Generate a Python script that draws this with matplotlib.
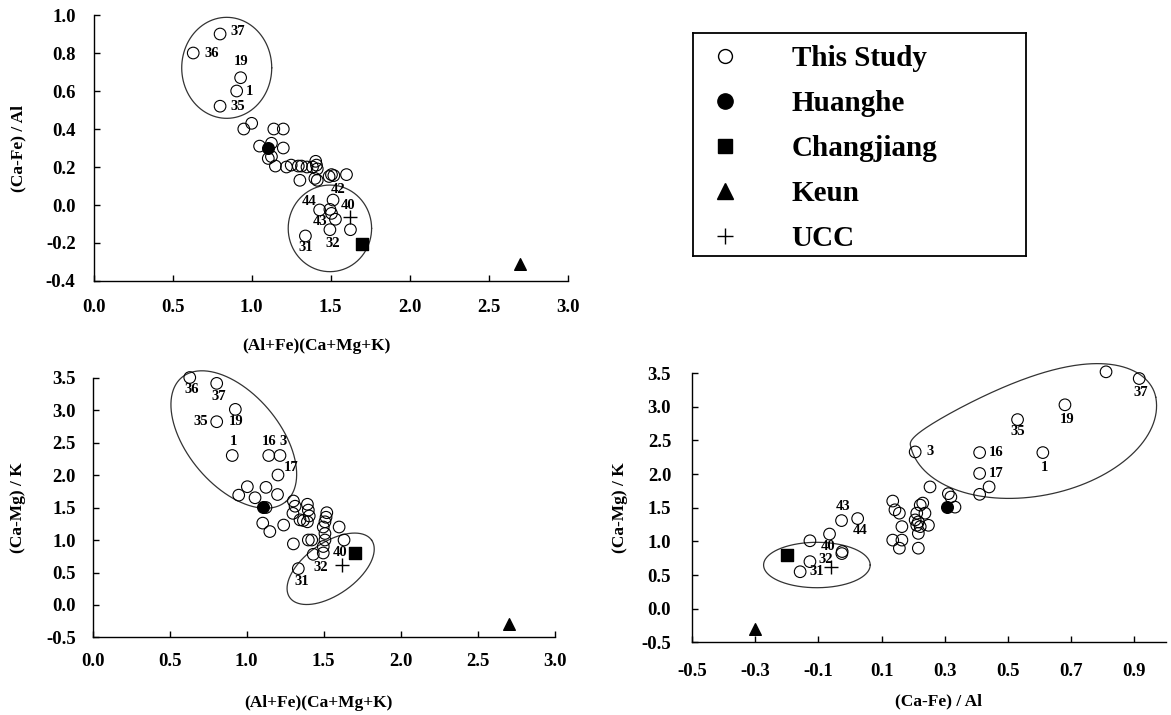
import numpy as np
import matplotlib
matplotlib.use('Agg')
import matplotlib.pyplot as plt
from matplotlib.lines import Line2D

plt.rcParams['font.family'] = 'Liberation Serif'
plt.rcParams['font.weight'] = 'bold'
plt.rcParams['axes.labelweight'] = 'bold'
plt.rcParams['axes.unicode_minus'] = False

# panel a : (Al+Fe)(Ca+Mg+K) vs (Ca-Fe)/Al   (this study)
a_x = [0.80, 0.63, 0.93, 0.905, 0.80,
       0.95, 1.00, 1.14, 1.20, 1.05, 1.125, 1.20, 1.105, 1.125,
       1.15, 1.22, 1.25, 1.295, 1.315, 1.35, 1.385, 1.405, 1.41, 1.415,
       1.305, 1.40, 1.415, 1.49, 1.505, 1.52, 1.60,
       1.515, 1.43, 1.495, 1.505, 1.53, 1.495, 1.625, 1.34]
a_y = [0.90, 0.80, 0.67, 0.60, 0.52,
       0.40, 0.43, 0.40, 0.40, 0.31, 0.325, 0.30, 0.245, 0.255,
       0.205, 0.20, 0.21, 0.205, 0.205, 0.20, 0.20, 0.23, 0.21, 0.19,
       0.13, 0.14, 0.13, 0.15, 0.16, 0.155, 0.16,
       0.026, -0.026, -0.023, -0.044, -0.075, -0.13, -0.13, -0.163]

# panel b : (Al+Fe)(Ca+Mg+K) vs (Ca-Mg)/K
b_x = [0.63, 0.805, 0.926, 0.805, 0.906, 1.143, 1.216, 1.203,
       1.004, 0.948, 1.054, 1.125, 1.20, 1.125,
       1.104, 1.15, 1.24,
       1.303, 1.314, 1.30, 1.346, 1.368, 1.394, 1.40, 1.406, 1.394,
       1.303, 1.40, 1.422, 1.432,
       1.52, 1.515, 1.508, 1.497, 1.508, 1.508, 1.497, 1.497,
       1.60, 1.632, 1.335]
b_y = [3.50, 3.41, 3.01, 2.82, 2.30, 2.30, 2.30, 2.00,
       1.82, 1.69, 1.65, 1.81, 1.70, 1.50,
       1.26, 1.13, 1.23,
       1.60, 1.52, 1.41, 1.31, 1.30, 1.55, 1.46, 1.37, 1.28,
       0.94, 1.00, 1.00, 0.78,
       1.42, 1.35, 1.28, 1.20, 1.10, 1.00, 0.90, 0.80,
       1.20, 1.00, 0.56]

# panel c : (Ca-Fe)/Al vs (Ca-Mg)/K
c_x = [0.81, 0.915, 0.68, 0.53, 0.61, 0.41, 0.206, 0.41,
       0.41, 0.44, 0.253, 0.311, 0.319, 0.332,
       0.135, 0.142, 0.156, 0.164, 0.135, 0.164, 0.156, 0.216,
       0.222, 0.23, 0.211, 0.237, 0.206, 0.216, 0.211, 0.222, 0.248, 0.216,
       -0.127, -0.065, -0.027, 0.024, -0.026, -0.025, -0.127, -0.158]
c_y = [3.52, 3.42, 3.03, 2.81, 2.32, 2.32, 2.33, 2.01,
       1.70, 1.81, 1.81, 1.71, 1.66, 1.51,
       1.60, 1.47, 1.42, 1.22, 1.02, 1.02, 0.90, 0.90,
       1.54, 1.57, 1.42, 1.42, 1.32, 1.29, 1.24, 1.22, 1.24, 1.12,
       1.01, 1.11, 1.31, 1.34, 0.82, 0.85, 0.70, 0.55]

# reference sediments: Huanghe, Changjiang, Keun, UCC
ref_names = ['Huanghe', 'Changjiang', 'Keun', 'UCC']
ref_a_x = [1.105, 1.70, 2.70, 1.62]
ref_a_y = [0.30, -0.205, -0.31, -0.065]
ref_b_x = [1.104, 1.70, 2.70, 1.62]
ref_b_y = [1.51, 0.80, -0.30, 0.61]
ref_c_x = [0.308, -0.20, -0.30, -0.06]
ref_c_y = [1.515, 0.80, -0.30, 0.615]

# sample numbers: (text, index of sample, offset px)
a_tags = [('37', 0, 18, 3), ('36', 1, 18, 0), ('19', 2, 0, 16), ('1', 3, 13, 0),
          ('35', 4, 18, 0), ('42', 29, 4, -14), ('44', 32, -11, 8),
          ('40', 31, 15, -5), ('43', 34, -11, -8), ('31', 38, 0, -12),
          ('32', 36, 3, -14)]
b_tags = [('36', 0, 2, -12), ('37', 1, 2, -13), ('19', 2, 1, -12), ('35', 3, -16, 0),
          ('1', 4, 1, 14), ('16', 5, 0, 14), ('3', 6, 3, 14), ('17', 7, 13, 8),
          ('40', 37, 17, 1), ('32', 29, 7, -13), ('31', 40, 3, -13)]
c_tags = [('36', 0, 1, -13), ('37', 1, 2, -14), ('19', 2, 2, -15), ('35', 3, 0, -12),
          ('1', 4, 2, -15), ('16', 5, 16, 0), ('3', 6, 15, 0), ('17', 7, 17, 0),
          ('43', 34, 2, 14), ('44', 35, 2, -12), ('40', 37, -14, 5),
          ('32', 38, 16, 2), ('31', 39, 17, 0)]

ref_style = [dict(marker='o', color='black', s=70),
             dict(marker='s', color='black', s=70),
             dict(marker='^', color='black', s=70),
             dict(marker='+', color='black', s=90, linewidths=1)]


def ring(ax, cx, cy, a, b, ang, b_low=None, k=0.0):
    # a, b semi axes in screen pixels, ang in degrees on screen
    # b_low / k let the outline bulge unevenly (egg shaped groups)
    if b_low is None:
        b_low = b
    sx = ax.bbox.width / np.ptp(ax.get_xlim())
    sy = ax.bbox.height / np.ptp(ax.get_ylim())
    t = np.linspace(0, 2 * np.pi, 400)
    r = np.radians(ang)
    u = a * np.cos(t)
    v = np.where(np.sin(t) > 0, b * np.sin(t) * (1 + k * np.cos(t)), b_low * np.sin(t))
    ax.plot(cx + (u * np.cos(r) - v * np.sin(r)) / sx,
            cy + (u * np.sin(r) + v * np.cos(r)) / sy,
            color='#333333', lw=0.9, zorder=1, clip_on=False)


def panel(ax, xs, ys, rx, ry, tags, xlim, ylim, xticks, yticks, xlabel, ylabel, pads):
    ax.set_xlim(*xlim)
    ax.set_ylim(*ylim)
    ax.scatter(xs, ys, s=70, facecolors='none', edgecolors='black', linewidths=0.8,
               zorder=2, clip_on=False)
    for i in range(len(ref_names)):
        ax.scatter(rx[i], ry[i], zorder=3, clip_on=False, **ref_style[i])
    for txt, i, dx, dy in tags:
        ax.annotate(txt, (xs[i], ys[i]), xytext=(dx, dy), textcoords='offset pixels',
                    ha='center', va='center', fontsize=10.5, fontweight='bold')
    ax.set_xticks(xticks)
    ax.set_yticks(yticks)
    ax.set_xticklabels(['%.1f' % v for v in xticks])
    ax.set_yticklabels(['%.1f' % v for v in yticks])
    for s in ['top', 'right']:
        ax.spines[s].set_visible(False)
    for s in ['left', 'bottom']:
        ax.spines[s].set_linewidth(1.0)
    ax.tick_params(direction='in', length=4, width=1, labelsize=13.5)
    ax.tick_params(axis='x', pad=pads[0])
    ax.tick_params(axis='y', pad=pads[1])
    ax.set_xlabel(xlabel, fontsize=12.5)
    ax.set_ylabel(ylabel, fontsize=12.5)


fig = plt.figure(figsize=(11.71, 7.15), dpi=100)
ax1 = fig.add_axes([0.0800, 0.607, 0.4048, 0.372])
ax2 = fig.add_axes([0.0792, 0.1084, 0.3945, 0.3636])
ax3 = fig.add_axes([0.591, 0.1015, 0.4048, 0.3766])

panel(ax1, a_x, a_y, ref_a_x, ref_a_y, a_tags, (0, 3.0), (-0.4, 1.0),
      np.arange(0, 3.01, 0.5), np.arange(-0.4, 1.01, 0.2),
      '(Al+Fe)(Ca+Mg+K)', '(Ca-Fe) / Al', (13, 13))
panel(ax2, b_x, b_y, ref_b_x, ref_b_y, b_tags, (0, 3.0), (-0.5, 3.5),
      np.arange(0, 3.01, 0.5), np.arange(-0.5, 3.51, 0.5),
      '(Al+Fe)(Ca+Mg+K)', '(Ca-Mg) / K', (11, 12))
panel(ax3, c_x, c_y, ref_c_x, ref_c_y, c_tags, (-0.5, 1.0), (-0.5, 3.5),
      np.arange(-0.5, 0.91, 0.2), np.arange(-0.5, 3.51, 0.5),
      '(Ca-Fe) / Al', '(Ca-Mg) / K', (15, 15))

ax1.xaxis.set_label_coords(0.469, -0.214)
ax1.yaxis.set_label_coords(-0.143, 0.5)
ax2.xaxis.set_label_coords(0.488, -0.221)
ax2.yaxis.set_label_coords(-0.144, 0.5)
ax3.xaxis.set_label_coords(0.519, -0.19)
ax3.yaxis.set_label_coords(-0.135, 0.5)

# grouping outlines
ring(ax1, 0.842, 0.722, 45, 50.5, 0)
ring(ax1, 1.495, -0.123, 41.7, 43.3, 0)
ring(ax2, 0.916, 2.546, 81, 46, -50)
ring(ax2, 1.545, 0.557, 50, 26, 35)
ring(ax3, -0.105, 0.65, 53.3, 22.7, 0)
ring(ax3, 0.579, 2.789, 125, 43, 11, b_low=75, k=0.46)

# legend box
lax = fig.add_axes([0.5918, 0.642, 0.2844, 0.3119])
lax.set_xticks([])
lax.set_yticks([])
for s in lax.spines.values():
    s.set_linewidth(1.3)
handles = [Line2D([], [], ls='none', marker='o', mfc='none', mec='black', ms=10, mew=1),
           Line2D([], [], ls='none', marker='o', color='black', ms=11),
           Line2D([], [], ls='none', marker='s', color='black', ms=10),
           Line2D([], [], ls='none', marker='^', color='black', ms=11),
           Line2D([], [], ls='none', marker='+', color='black', ms=12, mew=1)]
lax.legend(handles, ['This Study'] + ref_names, loc='center left', bbox_to_anchor=(0, 0.482),
           frameon=False, prop={'size': 21, 'weight': 'bold'}, handlelength=1.5,
           handletextpad=1.53, borderpad=0, borderaxespad=0.35, labelspacing=0.62)

fig.savefig('out.png', dpi=100)
